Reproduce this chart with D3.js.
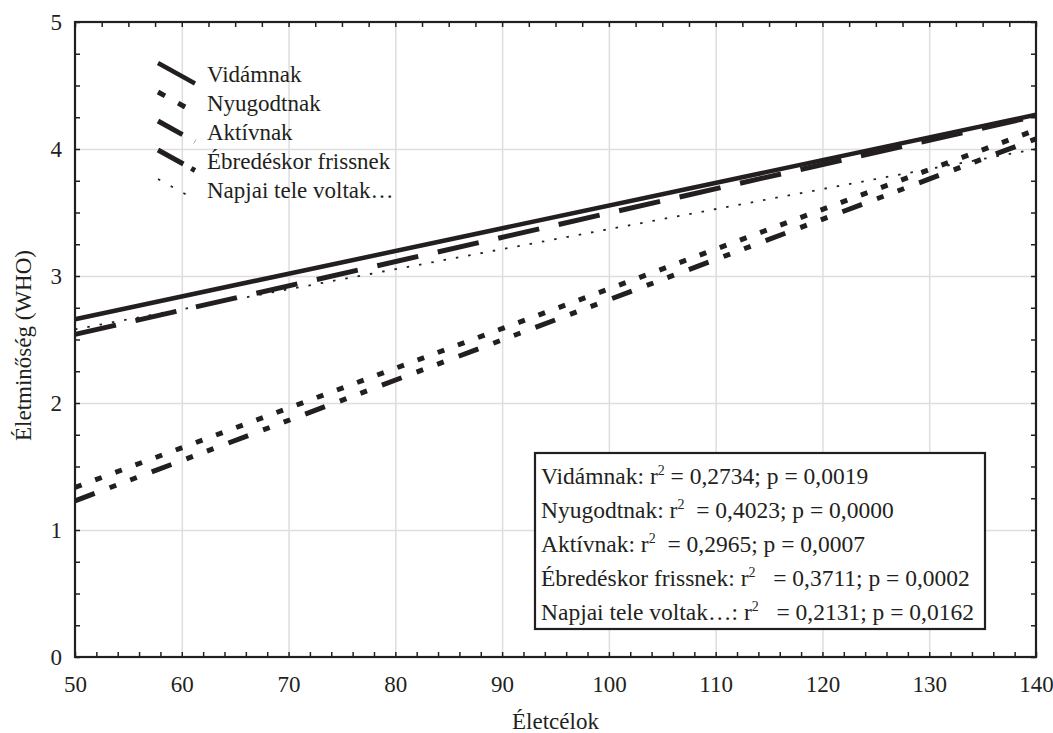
<!DOCTYPE html>
<html>
<head>
<meta charset="utf-8">
<script src="https://cdn.jsdelivr.net/npm/d3@7"></script>
<style>
  body { margin: 0; background: #fff; }
  svg text { font-family: "Liberation Serif", "Tinos", "DejaVu Serif", "Times New Roman", serif; fill: #231f20; }
  .grid line { stroke: #dedede; stroke-width: 1.5; }
  .grid .domain { display: none; }
  .minor line { stroke: #231f20; stroke-width: 1.5; }
  .minor .domain { display: none; }
  .labels .domain, .labels line { display: none; }
  .labels text { font-size: 23px; }
</style>
</head>
<body>
<svg id="chart" width="1053" height="733"></svg>
<script>
// data
const seriesNames = ["Vidámnak", "Nyugodtnak", "Aktívnak", "Ébredéskor frissnek", "Napjai tele voltak…"];
const xEnds = [50, 140];
const startValues = [2.66, 1.335, 2.54, 1.23, 2.58];
const endValues = [4.27, 4.15, 4.26, 4.08, 4.0];
const r2Values = ["0,2734", "0,4023", "0,2965", "0,3711", "0,2131"];
const pValues = ["0,0019", "0,0000", "0,0007", "0,0002", "0,0162"];
const xTicks = [50, 60, 70, 80, 90, 100, 110, 120, 130, 140];
const yTicks = [0, 1, 2, 3, 4, 5];

// line styles per series
const lineWidth = [4.5, 5, 5, 5, 1.8];
const lineDash = [null, "7,14.5", "42,20", "21,16,7,15,7,16", "2.5,10"];
const legendDash = [null, "8,15", "28,14", "29,9,6,14", "2.5,12"];
const r2Gap = [" ", "  ", "  ", "   ", "   "];

const svg = d3.select("#chart");
const plotL = 75, plotR = 1036, plotT = 22, plotB = 657;

const x = d3.scaleLinear().domain([50, 140]).range([plotL, plotR]);
const y = d3.scaleLinear().domain([0, 5]).range([plotB, plotT]);
const ink = "#231f20";
const fmt = d3.format("d");

// grid
svg.append("g").attr("class", "grid")
  .attr("transform", `translate(0,${plotB})`)
  .call(d3.axisBottom(x).tickValues(xTicks.slice(1, -1)).tickSize(-(plotB - plotT)).tickFormat(""));
svg.append("g").attr("class", "grid")
  .attr("transform", `translate(${plotL},0)`)
  .call(d3.axisLeft(y).tickValues(yTicks.slice(1, -1)).tickSize(-(plotR - plotL)).tickFormat(""));

// inner ticks on all four sides
svg.append("g").attr("class", "minor")
  .attr("transform", `translate(0,${plotB})`)
  .call(d3.axisBottom(x).tickValues(d3.range(50, 140.1, 2)).tickSize(-5).tickFormat(""));
svg.append("g").attr("class", "minor")
  .attr("transform", `translate(0,${plotT})`)
  .call(d3.axisTop(x).tickValues(d3.range(50, 140.1, 2.5)).tickSize(-5).tickFormat(""));
svg.append("g").attr("class", "minor")
  .attr("transform", `translate(${plotL},0)`)
  .call(d3.axisLeft(y).tickValues(d3.range(0, 5.01, 0.25)).tickSize(-5).tickFormat(""));
svg.append("g").attr("class", "minor")
  .attr("transform", `translate(${plotR},0)`)
  .call(d3.axisRight(y).tickValues(d3.range(0, 5.01, 0.25)).tickSize(-5).tickFormat(""));

// tick labels
svg.append("g").attr("class", "labels")
  .attr("transform", `translate(0,${plotB})`)
  .call(d3.axisBottom(x).tickValues(xTicks).tickSize(0).tickPadding(19).tickFormat(fmt));
svg.append("g").attr("class", "labels")
  .attr("transform", `translate(${plotL},0)`)
  .call(d3.axisLeft(y).tickValues(yTicks).tickSize(0).tickPadding(13).tickFormat(fmt));
svg.selectAll(".labels").attr("font-family", null);

// frame
svg.append("rect")
  .attr("x", plotL).attr("y", plotT)
  .attr("width", plotR - plotL).attr("height", plotB - plotT)
  .attr("fill", "none").attr("stroke", ink).attr("stroke-width", 2.2);

// axis titles
svg.append("text")
  .attr("x", (plotL + plotR) / 2).attr("y", 729)
  .attr("text-anchor", "middle").attr("font-size", 23)
  .text("Életcélok");
svg.append("text")
  .attr("transform", `translate(31,${(plotT + plotB) / 2 + 6}) rotate(-90)`)
  .attr("text-anchor", "middle").attr("font-size", 23)
  .text("Életminőség (WHO)");

// regression lines
const line = d3.line().x(d => x(d[0])).y(d => y(d[1]));
const series = seriesNames.map((name, i) => ({
  name, i,
  pts: [[xEnds[0], startValues[i]], [xEnds[1], endValues[i]]]
}));

svg.append("g")
  .selectAll("path")
  .data(series)
  .enter()
  .append("path")
  .attr("d", d => line(d.pts))
  .attr("fill", "none")
  .attr("stroke", ink)
  .attr("stroke-width", d => lineWidth[d.i])
  .attr("stroke-dasharray", d => lineDash[d.i]);

// legend (diagonal samples)
const legend = svg.append("g")
  .selectAll("g")
  .data(series)
  .enter()
  .append("g")
  .attr("transform", d => `translate(0,${82 + d.i * 29})`);

legend.append("line")
  .attr("x1", 158).attr("y1", -19)
  .attr("x2", 195).attr("y2", 1.5)
  .attr("stroke", ink)
  .attr("stroke-width", d => lineWidth[d.i])
  .attr("stroke-dasharray", d => legendDash[d.i]);

legend.append("text")
  .attr("x", 207).attr("y", 0)
  .attr("font-size", 23)
  .text(d => d.name);

// statistics box
svg.append("rect")
  .attr("x", 535).attr("y", 453)
  .attr("width", 450).attr("height", 176)
  .attr("fill", "#fff").attr("stroke", ink).attr("stroke-width", 2.2);

const stat = svg.append("g")
  .selectAll("text")
  .data(series)
  .enter()
  .append("text")
  .attr("x", 541)
  .attr("y", d => 484 + d.i * 34)
  .attr("font-size", 23.5)
  .style("white-space", "pre");

stat.append("tspan").text(d => `${d.name}: r`);
stat.append("tspan").attr("font-size", 14).attr("dy", -9).text("2");
stat.append("tspan").attr("dy", 9).text(d => `${r2Gap[d.i]}= ${r2Values[d.i]}; p = ${pValues[d.i]}`);
</script>
</body>
</html>
